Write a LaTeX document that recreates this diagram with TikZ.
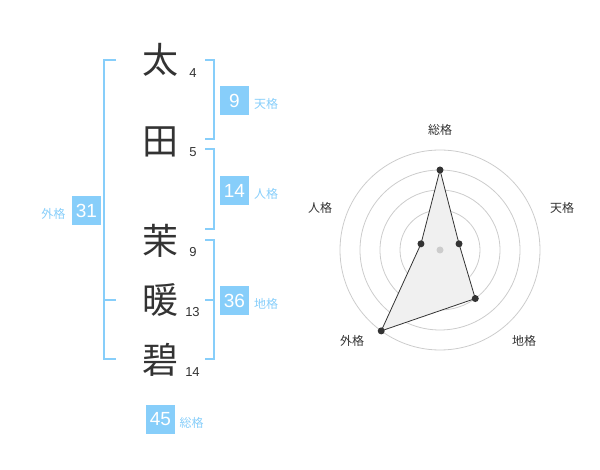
\documentclass[tikz,border=0pt]{standalone}
\usepackage{fontspec}
\setmainfont{Liberation Sans}
\newfontfamily\jpfont{Noto Sans CJK JP}
\definecolor{skyline}{HTML}{87CEFA}
\definecolor{inkgray}{HTML}{333333}
\definecolor{ringgray}{HTML}{CCCCCC}
\definecolor{areagray}{HTML}{F0F0F0}
\begin{document}
\begin{tikzpicture}[x=1pt,y=-1pt,
    kanji/.style={text=inkgray,inner sep=0pt,font=\jpfont\fontsize{36}{36}\selectfont},
    strokes/.style={text=inkgray,inner sep=0pt,font=\fontsize{13}{13}\selectfont},
    gradebox/.style={fill=skyline,text=white,minimum size=29pt,inner sep=0pt,font=\fontsize{19}{19}\selectfont},
    gradelabel/.style={text=skyline,inner sep=0pt,font=\jpfont\fontsize{12}{12}\selectfont},
    axislabel/.style={text=inkgray,inner sep=0pt,font=\jpfont\fontsize{12}{12}\selectfont},
    bracket/.style={draw=skyline,line width=2pt},
    ring/.style={draw=ringgray,line width=0.8pt},
    datadot/.style={circle,fill=inkgray,inner sep=0pt,minimum size=7pt}]
    \useasboundingbox (0,0) rectangle (600,470);

    % name characters and stroke counts
    \node[kanji] (ta) at (160,60) {太};
    \node[kanji] (da) at (160,141.5) {田};
    \node[kanji] (ma) at (160,241) {茉};
    \node[kanji] (dan) at (160,300) {暖};
    \node[kanji] (heki) at (160,360) {碧};
    \node[strokes] (taN) at (193,73) {4};
    \node[strokes] (daN) at (193,152.5) {5};
    \node[strokes] (maN) at (193,252.5) {9};
    \node[strokes] (danN) at (192.5,312.5) {13};
    \node[strokes] (hekiN) at (192.5,372.5) {14};

    % brackets
    \draw[bracket] (116,60) -- (104,60) -- (104,359) -- (116,359);
    \draw[bracket] (104,300) -- (116,300);
    \draw[bracket] (205,60) -- (214,60) -- (214,139) -- (205,139);
    \draw[bracket] (205,149) -- (214,149) -- (214,229) -- (205,229);
    \draw[bracket] (205,240) -- (214,240) -- (214,359) -- (205,359);
    \draw[bracket] (205,300) -- (214,300);

    % grades
    \node[gradebox] (ten) at (234.5,100.5) {9};
    \node[gradelabel] (tenL) at (266,104) {天格};
    \node[gradebox] (jin) at (234.5,190.5) {14};
    \node[gradelabel] (jinL) at (266,194) {人格};
    \node[gradebox] (gai) at (86.5,210.5) {31};
    \node[gradelabel] (gaiL) at (53.5,213.5) {外格};
    \node[gradebox] (chi) at (234.5,300.5) {36};
    \node[gradelabel] (chiL) at (266,304) {地格};
    \node[gradebox] (sou) at (160.5,419.5) {45};
    \node[gradelabel] (souL) at (191.5,422.5) {総格};

    % radar chart
    \coordinate (hub) at (440,250);
    \foreach \r in {20,40,...,100}
        \draw[ring] (hub) circle[radius=\r pt];
    \path (hub) ++(90:80pt) coordinate (pSou);
    \path (hub) ++(18:20pt) coordinate (pTen);
    \path (hub) ++(-54:60pt) coordinate (pChi);
    \path (hub) ++(-126:100pt) coordinate (pGai);
    \path (hub) ++(162:20pt) coordinate (pJin);
    \draw[fill=areagray,draw=inkgray,line width=0.8pt]
        (pSou) -- (pTen) -- (pChi) -- (pGai) -- (pJin) -- cycle;
    \node[datadot,fill=ringgray] (hubDot) at (hub) {};
    \foreach \p in {pSou,pTen,pChi,pGai,pJin}
        \node[datadot] (\p Dot) at (\p) {};

    \node[axislabel] (souA) at (440,130) {総格};
    \node[axislabel] (tenA) at (562,208) {天格};
    \node[axislabel] (jinA) at (320,208) {人格};
    \node[axislabel] (chiA) at (524,341) {地格};
    \node[axislabel] (gaiA) at (352,341) {外格};
\end{tikzpicture}
\end{document}
